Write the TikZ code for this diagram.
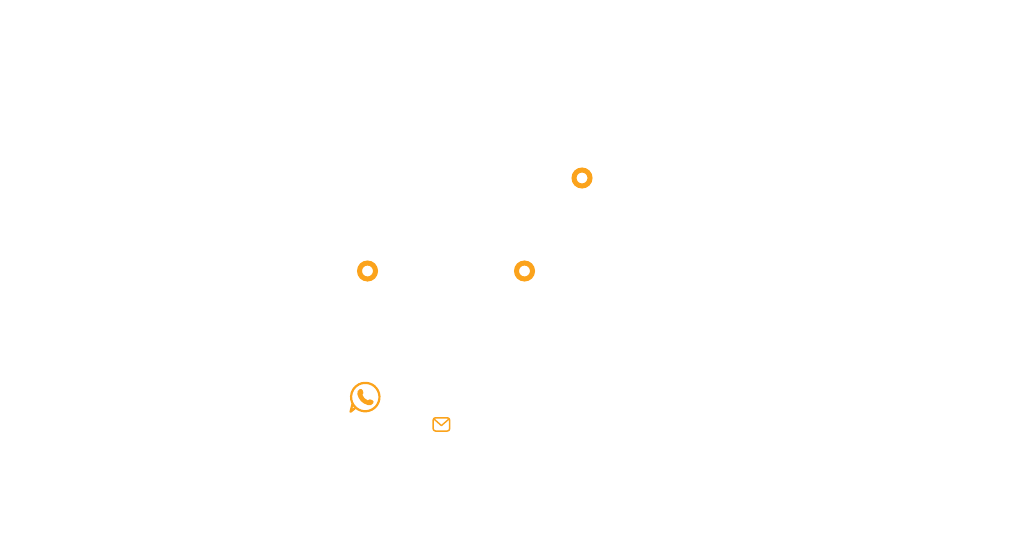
\documentclass[tikz,border=0pt]{standalone}
\definecolor{amber}{HTML}{FBA31C}
\tikzset{
  ring/.style={circle,draw=amber,line width=5pt,fill=white,minimum size=16pt,inner sep=0pt,outer sep=0pt},
  iconline/.style={draw=amber,line width=1.6pt,line join=round,line cap=round}
}
\begin{document}
\begin{tikzpicture}[x=1pt,y=-1pt]
\useasboundingbox (0,0) rectangle (1024,556);
\fill[white] (0,0) rectangle (1024,556);
\node[ring] (r1) at (582,178) {};
\node[ring] (r2) at (367.5,271) {};
\node[ring] (r3) at (524.5,271) {};
% chat bubble
\draw[iconline,line width=2.2pt,fill=white]
  (352.6,403.5) arc[start angle=153,end angle=-228,radius=14.2] -- (350.5,411.8) -- cycle;
% handset
\fill[amber] (359.6,389.2)
  .. controls (361.2,388.6) and (362.2,389.2) .. (362.8,390.6)
  .. controls (363.6,392.6) and (363.8,393.4) .. (362.4,394.8)
  .. controls (363.2,397.4) and (365.2,399.4) .. (367.8,400.4)
  .. controls (369.2,399) and (370,399) .. (372,400)
  .. controls (373.6,400.8) and (374,401.6) .. (373.4,403)
  .. controls (372.4,405) and (370,405.8) .. (367.6,405)
  .. controls (362.2,403.4) and (358.8,399.8) .. (357.4,394.4)
  .. controls (356.8,392.2) and (357.8,390.2) .. (359.6,389.2) -- cycle;
% envelope
\draw[iconline,line width=1.5pt,rounded corners=2.2pt] (433.2,417.8) rectangle (449.6,431);
\draw[iconline,line width=1.4pt] (434,419) -- (441.4,425.6) -- (449,419);
\end{tikzpicture}
\end{document}
